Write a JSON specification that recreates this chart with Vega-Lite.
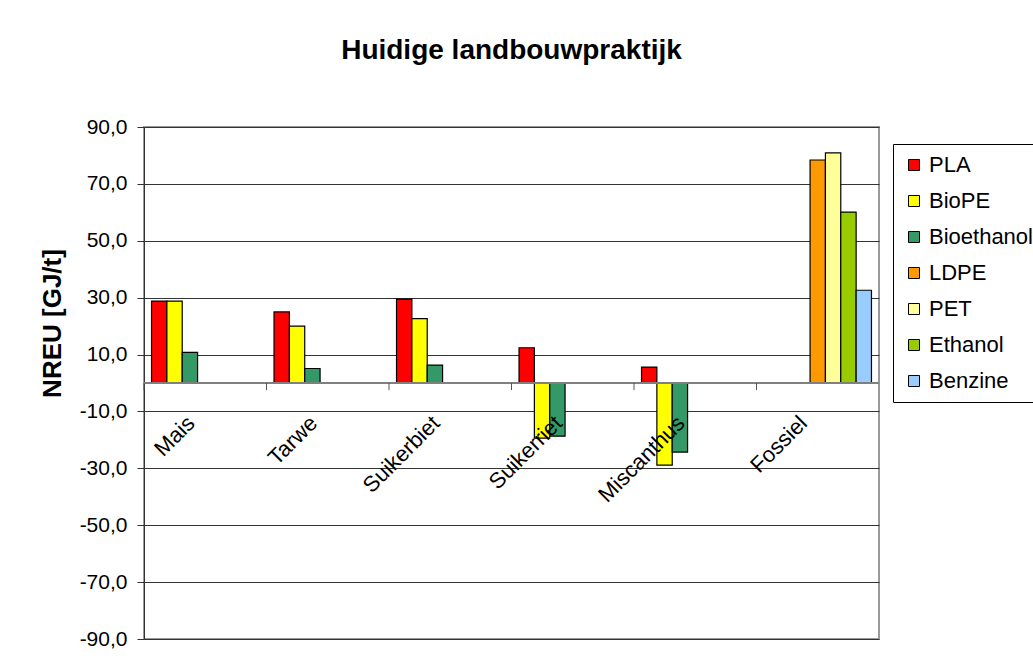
{
  "$schema": "https://vega.github.io/schema/vega-lite/v6.json",
  "width": 735,
  "height": 512,
  "autosize": {"type": "none"},
  "padding": {"left": 144, "top": 127, "right": 154, "bottom": 29},
  "background": "white",
  "config": {
    "locale": {"number": {"decimal": ",", "thousands": ".", "grouping": [3], "currency": ["€", ""], "minus": "-"}},
    "font": "Liberation Sans",
    "view": {"stroke": "#999999", "strokeWidth": 2},
    "axis": {
      "domainColor": "#333333",
      "domainWidth": 1,
      "tickColor": "#333333",
      "tickSize": 7,
      "labelFontSize": 21,
      "labelColor": "black",
      "labelFont": "Liberation Sans",
      "labelPadding": 10,
      "gridColor": "#333333",
      "gridWidth": 1,
      "titleFontSize": 26,
      "titleFontWeight": "bold",
      "titleColor": "black",
      "titleFont": "Liberation Sans"
    }
  },
  "title": {
    "text": "Huidige landbouwpraktijk",
    "fontSize": 28,
    "fontWeight": "bold",
    "font": "Liberation Sans",
    "color": "black",
    "anchor": "middle",
    "offset": 51
  },
  "data": {
    "values": [
      {"category": "Mais", "series": "PLA", "value": 28.8},
      {"category": "Mais", "series": "BioPE", "value": 28.8},
      {"category": "Mais", "series": "Bioethanol", "value": 10.8},
      {"category": "Tarwe", "series": "PLA", "value": 25.0},
      {"category": "Tarwe", "series": "BioPE", "value": 20.0},
      {"category": "Tarwe", "series": "Bioethanol", "value": 5.1},
      {"category": "Suikerbiet", "series": "PLA", "value": 29.5},
      {"category": "Suikerbiet", "series": "BioPE", "value": 22.6},
      {"category": "Suikerbiet", "series": "Bioethanol", "value": 6.3},
      {"category": "Suikerriet", "series": "PLA", "value": 12.4},
      {"category": "Suikerriet", "series": "BioPE", "value": -19.4},
      {"category": "Suikerriet", "series": "Bioethanol", "value": -18.7},
      {"category": "Miscanthus", "series": "PLA", "value": 5.6},
      {"category": "Miscanthus", "series": "BioPE", "value": -28.9},
      {"category": "Miscanthus", "series": "Bioethanol", "value": -24.3},
      {"category": "Fossiel", "series": "LDPE", "value": 78.4},
      {"category": "Fossiel", "series": "PET", "value": 80.9},
      {"category": "Fossiel", "series": "Ethanol", "value": 60.1},
      {"category": "Fossiel", "series": "Benzine", "value": 32.6}
    ]
  },
  "layer": [
    {
      "mark": {"type": "bar", "stroke": "black", "strokeWidth": 1.2},
      "encoding": {
        "x": {"field": "category", "type": "nominal", "sort": ["Mais", "Tarwe", "Suikerbiet", "Suikerriet", "Miscanthus", "Fossiel"], "scale": {"paddingInner": 0, "paddingOuter": 0}, "axis": null},
        "xOffset": {"field": "series", "type": "nominal", "sort": ["PLA", "BioPE", "Bioethanol", "LDPE", "PET", "Ethanol", "Benzine"], "scale": {"paddingInner": 0, "paddingOuter": 0.49}},
        "y": {
          "field": "value", "type": "quantitative", "title": "NREU [GJ/t]",
          "scale": {"domain": [-90, 90], "nice": false, "zero": false},
          "axis": {"values": [-90, -70, -50, -30, -10, 10, 30, 50, 70, 90], "format": ".1f", "grid": true, "titleX": -92, "titleY": 196, "titleAngle": -90, "titleAlign": "center", "titleBaseline": "middle"}
        },
        "color": {
          "field": "series", "type": "nominal",
          "scale": {"domain": ["PLA", "BioPE", "Bioethanol", "LDPE", "PET", "Ethanol", "Benzine"], "range": ["#FF0000", "#FFFF00", "#339966", "#FF9900", "#FFFF99", "#99CC00", "#99CCFF"]},
          "legend": {"orient": "none", "legendX": 749, "legendY": 17, "title": null, "symbolType": "square", "symbolSize": 121, "symbolStrokeColor": "black", "symbolStrokeWidth": 1, "symbolOpacity": 1, "labelFontSize": 22, "labelColor": "black", "labelFont": "Liberation Sans", "labelOffset": 4, "rowPadding": 14, "padding": 10, "strokeColor": "black", "fillColor": "white", "cornerRadius": 0}
        }
      }
    },
    {
      "mark": {"type": "rule", "color": "#808080", "strokeWidth": 2},
      "encoding": {"y": {"datum": 0, "type": "quantitative", "title": "NREU [GJ/t]"}}
    },
    {
      "data": {"values": [{"category": "Mais"}, {"category": "Tarwe"}, {"category": "Suikerbiet"}, {"category": "Suikerriet"}, {"category": "Miscanthus"}, {"category": "Fossiel"}]},
      "mark": {"type": "rule", "color": "#555555", "strokeWidth": 1},
      "encoding": {
        "x": {"field": "category", "type": "nominal", "sort": ["Mais", "Tarwe", "Suikerbiet", "Suikerriet", "Miscanthus", "Fossiel"], "bandPosition": 0, "axis": null},
        "y": {"datum": 0, "type": "quantitative", "title": "NREU [GJ/t]"},
        "y2": {"datum": -2.5}
      }
    },
    {
      "data": {"values": [{"category": "Mais"}, {"category": "Tarwe"}, {"category": "Suikerbiet"}, {"category": "Suikerriet"}, {"category": "Miscanthus"}, {"category": "Fossiel"}]},
      "mark": {"type": "text", "angle": -45, "align": "right", "baseline": "top", "dx": -36, "dy": 6, "fontSize": 22, "font": "Liberation Sans", "color": "black"},
      "encoding": {
        "x": {"field": "category", "type": "nominal", "sort": ["Mais", "Tarwe", "Suikerbiet", "Suikerriet", "Miscanthus", "Fossiel"], "axis": null},
        "y": {"datum": 0, "type": "quantitative", "title": "NREU [GJ/t]"},
        "text": {"field": "category"}
      }
    }
  ]
}
